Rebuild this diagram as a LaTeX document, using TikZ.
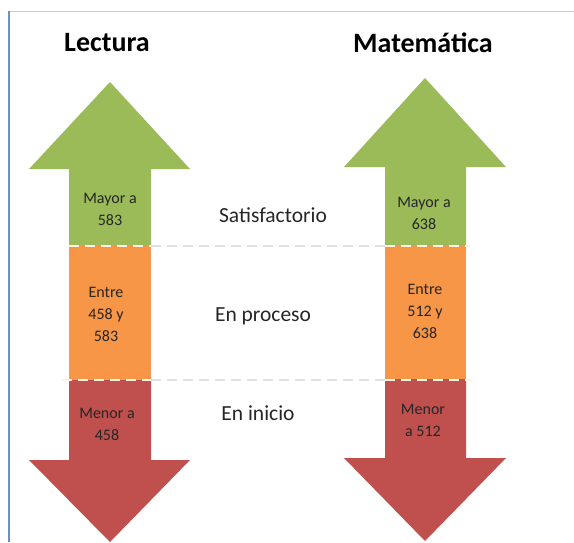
\documentclass[tikz,border=0pt]{standalone}
\usepackage{fontspec}
\setmainfont{Carlito}
\definecolor{nivelverde}{HTML}{9BBB59}
\definecolor{nivelnaranja}{HTML}{F79646}
\definecolor{nivelrojo}{HTML}{C0504D}
\definecolor{marco}{HTML}{6F8FC0}
\begin{document}
\begin{tikzpicture}[x=1pt,y=-1pt,
    titulo/.style={font=\fontsize{28}{32}\selectfont\bfseries, text=black},
    nivel/.style={font=\fontsize{21.5}{26}\selectfont, text=black!85},
    rango/.style={font=\fontsize{16}{22}\selectfont, align=center, text=black!85},
    corte/.style={white!90!orange, line width=2pt, dash pattern=on 10pt off 6pt},
    guia/.style={black!12, line width=1.5pt, dash pattern=on 10pt off 6pt}]
  \useasboundingbox (0,0) rectangle (574,542);
  % marco
  \draw[black!20, line width=1pt] (9,11) -- (574,11);
  \draw[marco, line width=1.2pt] (9,11) -- (9,542);
  % lectura
  \fill[nivelverde] (69,246) -- (69,169) -- (29,169) -- (110,82) -- (190,169)
    -- (151,169) -- (151,246) -- cycle;
  \fill[nivelnaranja] (69,246) rectangle (151,380);
  \fill[nivelrojo] (69,380) -- (151,380) -- (151,460) -- (190,460) -- (110,542)
    -- (29,460) -- (69,460) -- cycle;
  % matematica
  \fill[nivelverde] (385,245) -- (385,167) -- (344,167) -- (425,78) -- (506,167)
    -- (466,167) -- (466,245) -- cycle;
  \fill[nivelnaranja] (385,245) rectangle (466,379);
  \fill[nivelrojo] (385,379) -- (466,379) -- (466,458) -- (506,458) -- (425,541)
    -- (344,458) -- (385,458) -- cycle;
  % cortes
  \coordinate (a1) at (69,246);
  \coordinate (a2) at (151,246);
  \coordinate (a3) at (385,246);
  \coordinate (a4) at (470,246);
  \coordinate (b1) at (62,380);
  \coordinate (b2) at (151,380);
  \coordinate (b3) at (385,380);
  \coordinate (b4) at (473,380);
  \draw[guia] (a2) -- (a3);
  \draw[guia] (b2) -- (b3);
  \draw[corte] (a1) -- (a2);
  \draw[corte] (a3) -- (a4);
  \draw[corte] (b1) -- (b2);
  \draw[corte] (b3) -- (b4);
  % textos
  \node[titulo] (lectura) at (107,43) {Lectura};
  \node[titulo] (matematica) at (423,43) {Matemática};
  \node[nivel] (satis) at (273,215) {Satisfactorio};
  \node[nivel] (proceso) at (263,316) {En proceso};
  \node[nivel] (inicio) at (258,413) {En inicio};
  \node[rango] (lmayor) at (110,209) {Mayor a\\583};
  \node[rango] (lentre) at (106,314) {Entre\\458 y\\583};
  \node[rango] (lmenor) at (107,424) {Menor a\\458};
  \node[rango] (mmayor) at (424,213) {Mayor a\\638};
  \node[rango] (mentre) at (425,311) {Entre\\512 y\\638};
  \node[rango] (mmenor) at (423,420) {Menor\\a 512};
\end{tikzpicture}
\end{document}
